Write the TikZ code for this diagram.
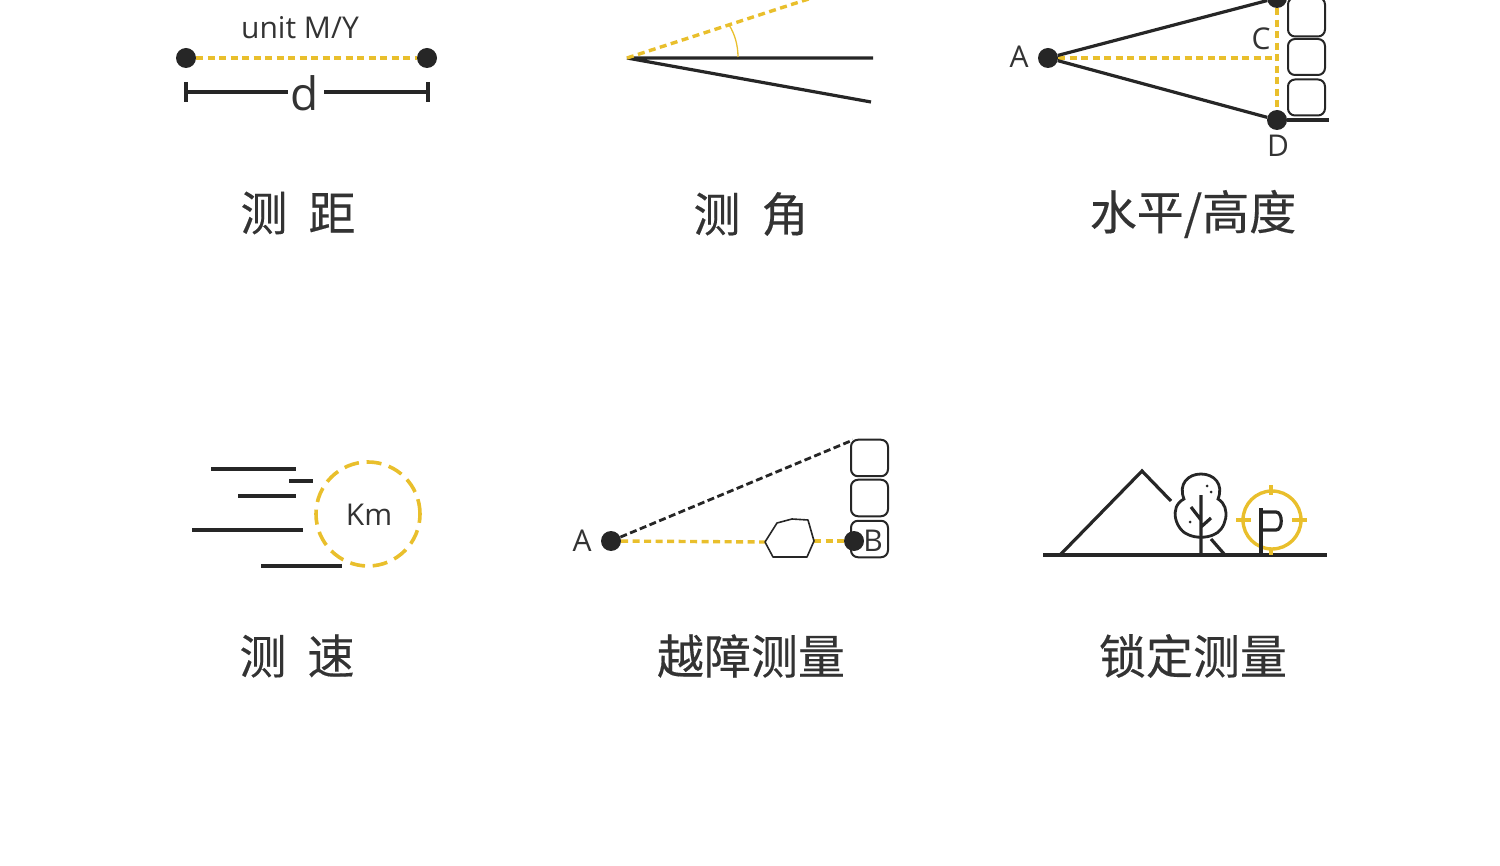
\documentclass[tikz,border=0pt]{standalone}
\usepackage{fontspec}
\setmainfont{Open Sans}
\newfontfamily\cjkfont[WordSpace=2,FakeBold=0.3]{Noto Sans CJK SC}
\definecolor{ink}{HTML}{262626}
\definecolor{gold}{HTML}{E9BF2C}
\definecolor{txt}{HTML}{333333}
\newcommand\lblfont{\cjkfont\fontsize{47}{47}\selectfont}
\newcommand\smfont{\fontsize{30}{30}\selectfont}
\newcommand\bigfont{\fontsize{46}{46}\selectfont}
\tikzset{
 line/.style={draw=ink,line width=3.2pt},
 thinl/.style={draw=ink,line width=2.8pt},
 ydash/.style={draw=gold,line width=3.4pt,dash pattern=on 7pt off 4.5pt},
 kdash/.style={draw=ink,line width=2.8pt,dash pattern=on 7pt off 3.5pt},
 dot/.style={circle,fill=ink,inner sep=0pt,minimum size=20pt},
 lbl/.style={font=\lblfont,text=txt,inner sep=0pt},
 sm/.style={font=\smfont,text=txt,inner sep=0pt},
 brick/.style={draw=ink,line width=2pt,rounded corners=7pt,fill=white},
}
\begin{document}
\begin{tikzpicture}[x=1pt,y=-1pt]
\useasboundingbox (0,0) rectangle (1500,866);
\clip (0,0) rectangle (1500,866);
% distance
\coordinate (d1a) at (186,82); \coordinate (d1b) at (186,102);
\coordinate (d2a) at (428,82); \coordinate (d2b) at (428,102);
\node[dot] (L) at (186,58) {};
\node[dot] (R) at (427,58) {};
\draw[ydash] (L) -- (R);
\node[sm] (unit) at (300,28) {unit M/Y};
\node[font=\bigfont,text=txt,inner sep=0pt] (dd) at (305,93) {d};
\coordinate (dl) at (186,92); \coordinate (dr) at (428,92);
\coordinate (dl2) at (288,92); \coordinate (dr2) at (324,92);
\draw[line] (d1a) -- (d1b) (d2a) -- (d2b) (dl) -- (dl2) (dr2) -- (dr);
\node[lbl] (t1) at (298,213) {测 距};
% angle
\coordinate (O) at (627,58);
\coordinate (O1) at (873,58); \coordinate (O2) at (871,102); \coordinate (O3) at (830,-8);
\coordinate (a1) at (729,25); \coordinate (a2) at (738,57);
\draw[line] (O1) -- (O) -- (O2);
\draw[ydash] (O) -- (O3);
\draw[gold,line width=1.3pt] (a1) .. controls (735,34) and (738,46) .. (a2);
\node[lbl] (t2) at (751,214) {测 角};
% level / height
\node[brick,minimum width=37pt,minimum height=39pt] (b1) at (1306.5,17) {};
\node[brick,minimum width=37pt,minimum height=36pt] (b2) at (1306.5,57) {};
\node[brick,minimum width=37pt,minimum height=36pt] (b3) at (1306.5,97.5) {};
\coordinate (Cf) at (1277,58); \coordinate (G) at (1329,120);
\node[dot] (A) at (1048,58) {};
\node[dot] (T) at (1277,-2) {};
\node[dot] (Dd) at (1277,120) {};
\draw[ydash] (A) -- (Cf);
\draw[ydash] (T) -- (Dd);
\draw[line] (A) -- (T);
\draw[line] (A) -- (Dd);
\draw[line] (Dd) -- (G);
\node[sm] (la) at (1019,57) {A};
\node[sm] (lc) at (1261,39) {C};
\node[sm] (ld) at (1278,146) {D};
\node[lbl] (t3) at (1193,214) {水平/高度};
% speed
\foreach \n/\xa/\xb/\yy in {s1/211/296/469,s2/289/313/481,s3/238/296/496,s4/192/303/530,s5/261/342/566}{
 \coordinate (\n a) at (\xa,\yy); \coordinate (\n b) at (\xb,\yy);
 \draw[line] (\n a) -- (\n b);
}
\node[circle,draw=gold,line width=3.6pt,dash pattern=on 15pt off 7.7pt,minimum size=104pt,inner sep=0pt] (km) at (368,514) {};
\node[sm] (kmt) at (369,515) {Km};
\node[lbl] (t4) at (297,656) {测 速};
% obstacle
\node[brick,minimum width=37pt,minimum height=36.5pt] (c1) at (869.5,458) {};
\node[brick,minimum width=37pt,minimum height=36.5pt] (c2) at (869.5,498) {};
\node[brick,minimum width=37pt,minimum height=36.5pt] (c3) at (869.5,539) {};
\node[sm] (lb) at (873,541) {B};
\coordinate (Top) at (853,440);
\node[dot] (P) at (611,541) {};
\node[dot] (Q) at (854,541) {};
\coordinate (h1) at (765,542);
\coordinate (h2) at (814,541);
\draw[ydash] (P) -- (h1);
\draw[ydash] (h2) -- (Q);
\draw[kdash] (P) -- (Top);
\draw[ink,line width=1.6pt,line join=round] (h1) -- (777,523) -- (792,519) -- (808,520) -- (h2) -- (807,557) -- (773,557) -- cycle;
\node[sm] (lp) at (582,541) {A};
\node[lbl] (t5) at (751,656) {越障测量};
% lock
\coordinate (g1) at (1043,555); \coordinate (g2) at (1327,555);
\coordinate (m1) at (1060,555); \coordinate (m2) at (1142,471); \coordinate (m3) at (1171,501);
\draw[line] (g1) -- (g2);
\draw[line,line join=miter] (m1) -- (m2) -- (m3);
\draw[thinl] (1189,535) .. controls (1176,531) and (1168,507) .. (1184,499)
  .. controls (1178,484) and (1188,474) .. (1201,474)
  .. controls (1214,474) and (1224,484) .. (1218,499)
  .. controls (1232,507) and (1226,531) .. (1213,535)
  .. controls (1206,538) and (1196,538) .. cycle;
\coordinate (tr1) at (1201,495); \coordinate (tr2) at (1201,555);
\coordinate (br1) at (1191,507); \coordinate (br2) at (1201,520);
\coordinate (br3) at (1211,518); \coordinate (br4) at (1201,527);
\coordinate (br5) at (1211,539); \coordinate (br6) at (1225,555);
\draw[line] (tr1) -- (tr2) (br1) -- (br2) (br3) -- (br4) (br5) -- (br6);
\fill[ink] (1207,486) circle (1.5pt) (1211,492) circle (1.5pt) (1190,522) circle (1.5pt);
\node[circle,draw=gold,line width=3.4pt,minimum size=58pt,inner sep=0pt] (tg) at (1272,520) {};
\draw[gold,line width=3.4pt] (1236,520) -- (1251,520) (1292,520) -- (1307,520) (1271,485) -- (1271,495) (1271,548) -- (1271,555);
\coordinate (pa) at (1261,508); \coordinate (pb) at (1261,555);
\draw[line] (pa) -- (pb);
\draw[line] (1261,512) -- (1276,512) .. controls (1283,512) and (1283,530) .. (1276,530) -- (1261,530);
\node[lbl] (t6) at (1193,656) {锁定测量};
\end{tikzpicture}
\end{document}
